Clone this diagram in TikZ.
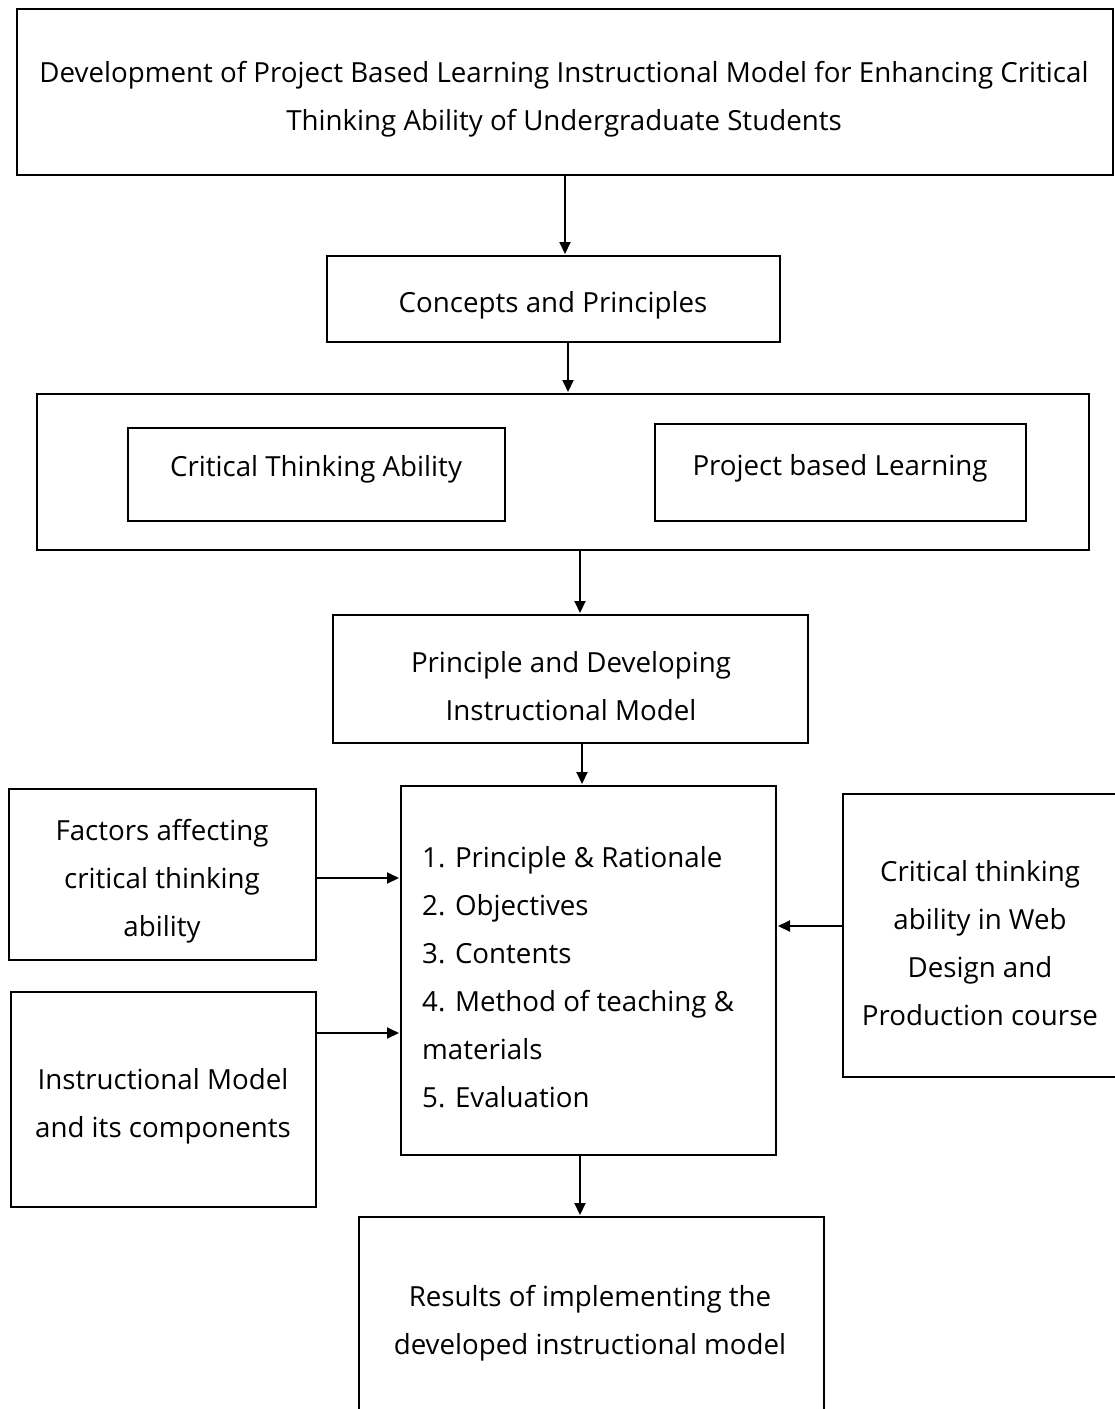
\documentclass[tikz,border=0pt]{standalone}
\usepackage{fontspec}
\setmainfont{Open Sans}
\usetikzlibrary{arrows.meta}
\begin{document}
\begin{tikzpicture}[x=1pt,y=-1pt,
  box/.style={draw,line width=1.8pt,inner sep=0pt,outer sep=0pt},
  txt/.style={align=center,font=\fontsize{27.7}{48}\selectfont,inner sep=0pt},
  ltxt/.style={align=left,font=\fontsize{27.7}{48}\selectfont,inner sep=0pt},
  arr/.style={line width=2pt,shorten >=2pt,-{Triangle[length=12pt,width=11pt]}}]
\useasboundingbox (0,0) rectangle (1115,1409);
% boxes
\node[box,minimum width=1096pt,minimum height=166pt] (title) at (565,92) {};
\node[box,minimum width=453pt,minimum height=86pt] (concepts) at (553.5,299) {};
\node[box,minimum width=1052pt,minimum height=156pt] (outer) at (563,472) {};
\node[box,minimum width=377pt,minimum height=93pt] (cta) at (316.5,474.5) {};
\node[box,minimum width=371pt,minimum height=97pt] (pbl) at (840.5,472.5) {};
\node[box,minimum width=475pt,minimum height=128pt] (pdim) at (570.5,679) {};
\node[box,minimum width=375pt,minimum height=369pt] (list) at (588.5,970.5) {};
\node[box,minimum width=307pt,minimum height=171pt] (factors) at (162.5,874.5) {};
\node[box,minimum width=305pt,minimum height=215pt] (im) at (163.5,1099.5) {};
\node[box,minimum width=280pt,minimum height=283pt] (right) at (983,935.5) {};
\node[box,minimum width=465pt,minimum height=200pt] (results) at (591.5,1317) {};
% texts
\node[txt] (titletext) at (564,99) {Development of Project Based Learning Instructional Model for Enhancing Critical\\Thinking Ability of Undergraduate Students};
\node[txt] (conceptstext) at (553,305) {Concepts and Principles};
\node[txt] (ctatext) at (316,469) {Critical Thinking Ability};
\node[txt] (pbltext) at (840,468) {Project based Learning};
\node[txt] (pdimtext) at (571,686.5) {Principle and Developing\\Instructional Model};
\node[ltxt,anchor=west] (listtext) at (422,977.5) {1. Principle \& Rationale\\2. Objectives\\3. Contents\\4. Method of teaching \&\\materials\\5. Evaluation};
\node[txt] (factorstext) at (162,881) {Factors affecting\\critical thinking\\ability};
\node[txt] (imtext) at (163,1106.5) {Instructional Model\\and its components};
\node[txt] (righttext) at (980,943) {Critical thinking\\ability in Web\\Design and\\Production course};
\node[txt] (resultstext) at (590,1323) {Results of implementing the\\developed instructional model};
% arrows
\draw[arr] (title.south) -- ([xshift=11.5pt]concepts.north);
\draw[arr] ([xshift=14.5pt]concepts.south) -- ([xshift=5pt]outer.north);
\draw[arr] ([xshift=17pt]outer.south) -- ([xshift=9.5pt]pdim.north);
\draw[arr] ([xshift=11.5pt]pdim.south) -- ([xshift=-6.5pt]list.north);
\draw[arr] ([xshift=-8.5pt]list.south) -- ([xshift=-11.5pt]results.north);
\draw[arr] ([yshift=-3.5pt]factors.east) coordinate (fa) -- (fa -| list.west);
\draw[arr] ([yshift=66.5pt]im.east) coordinate (ia) -- (ia -| list.west);
\draw[arr] ([yshift=9.5pt]right.west) coordinate (ra) -- (ra -| list.east);
\end{tikzpicture}
\end{document}
